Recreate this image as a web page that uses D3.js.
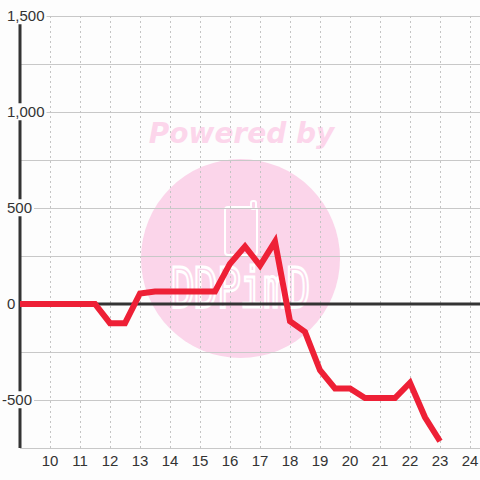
<!DOCTYPE html>
<html>
<head>
<meta charset="utf-8">
<script src="https://cdn.jsdelivr.net/npm/d3@7"></script>
<style>
  html, body { margin: 0; padding: 0; background: #fdfdfd; }
  svg { display: block; }
</style>
</head>
<body>
<svg id="chart" width="480" height="480"></svg>
<script>
// ---- data ----
const xValues = [9, 9.5, 10, 10.5, 11, 11.5, 12, 12.5, 13, 13.5, 14, 14.5, 15, 15.5,
                 16, 16.5, 17, 17.5, 18, 18.5, 19, 19.5, 20, 20.5, 21, 21.5, 22, 22.5, 23];
const seriesValues = [0, 0, 0, 0, 0, 0, -100, -100, 55, 65, 65, 65, 65, 65,
                      210, 300, 200, 325, -90, -145, -345, -440, -440, -490, -490, -490, -410, -590, -715];
const xTicks = [10, 11, 12, 13, 14, 15, 16, 17, 18, 19, 20, 21, 22, 23, 24];
const yTicks = [-500, 0, 500, 1000, 1500];
const yGrid = [-750, -500, -250, 0, 250, 500, 750, 1000, 1250, 1500];

const svg = d3.select("#chart");
const W = 480, H = 480;
const x = d3.scaleLinear().domain([9, 24]).range([20, 470]);
const y = d3.scaleLinear().domain([-750, 1500]).range([448, 16]);

svg.append("rect").attr("width", W).attr("height", H).attr("fill", "#fdfdfd");

// ---- watermark ----
const wm = svg.append("g");
wm.append("text")
  .attr("x", 241.5).attr("y", 143)
  .attr("text-anchor", "middle")
  .attr("font-family", "DejaVu Sans")
  .attr("font-weight", "bold").attr("font-style", "italic")
  .attr("font-size", 28)
  .attr("fill", "#fcd6eb")
  .text("Powered by");
wm.append("circle").attr("cx", 240.5).attr("cy", 258.5).attr("r", 99.5).attr("fill", "#fbd5ea");
// phone-like logo
wm.append("rect").attr("x", 225).attr("y", 207).attr("width", 32).attr("height", 48).attr("rx", 3)
  .attr("fill", "none").attr("stroke", "#ffffff").attr("stroke-width", 2);
wm.append("rect").attr("x", 251).attr("y", 201).attr("width", 5).attr("height", 8).attr("rx", 2)
  .attr("fill", "#fbd5ea").attr("stroke", "#ffffff").attr("stroke-width", 2);
wm.append("text")
  .attr("transform", "translate(240,307) scale(1,1.4)")
  .attr("text-anchor", "middle")
  .attr("font-family", "DejaVu Sans Mono")
  .attr("font-size", 40)
  .attr("fill", "#fbd5ea").attr("stroke", "#ffffff").attr("stroke-width", 2)
  .attr("letter-spacing", -1)
  .text("DDPimD");

// ---- grid ----
const grid = svg.append("g");
grid.selectAll("line.h").data(yGrid).enter().append("line")
  .attr("x1", x(9)).attr("x2", W)
  .attr("y1", d => y(d)).attr("y2", d => y(d))
  .attr("stroke", "#c8c8c8").attr("stroke-width", 1)
  .attr("shape-rendering", "crispEdges");
grid.selectAll("line.v").data(xTicks).enter().append("line")
  .attr("x1", d => x(d)).attr("x2", d => x(d))
  .attr("y1", y(1500)).attr("y2", y(-750))
  .attr("stroke", "#c4c4c4").attr("stroke-width", 1)
  .attr("stroke-dasharray", "2,3")
  .attr("shape-rendering", "crispEdges");

// ---- axes lines ----
svg.append("line")
  .attr("x1", x(9)).attr("x2", x(9))
  .attr("y1", y(1500)).attr("y2", y(-750))
  .attr("stroke", "#333").attr("stroke-width", 3);
svg.append("line")
  .attr("x1", x(9)).attr("x2", W)
  .attr("y1", y(0)).attr("y2", y(0))
  .attr("stroke", "#333").attr("stroke-width", 3);

// ---- y tick labels with white background ----
const fmt = d3.format(",");
const yl = svg.append("g");
yTicks.forEach(v => {
  const g = yl.append("g");
  const bg = g.append("rect").attr("fill", "#fdfdfd");
  const t = g.append("text")
    .attr("x", 7 - (v < 0 ? 5 : 0))
    .attr("y", y(v))
    .attr("dy", "0.35em")
    .attr("font-family", "Liberation Sans, Arial, sans-serif")
    .attr("font-size", 15)
    .attr("fill", "#333")
    .text(fmt(v).replace("−", "-"));
  const b = t.node().getBBox();
  bg.attr("x", b.x - 1).attr("y", b.y).attr("width", b.width + 3).attr("height", b.height);
});

// ---- x tick labels ----
svg.append("g").selectAll("text").data(xTicks).enter().append("text")
  .attr("x", d => x(d)).attr("y", 461).attr("dy", "0.35em")
  .attr("text-anchor", "middle")
  .attr("font-family", "Liberation Sans, Arial, sans-serif")
  .attr("font-size", 15)
  .attr("fill", "#333")
  .text(d => d);

// ---- series line ----
const pts = xValues.map((xv, i) => [xv, seriesValues[i]]);
svg.append("path")
  .datum(pts)
  .attr("d", d3.line().x(d => x(d[0])).y(d => y(d[1])))
  .attr("fill", "none")
  .attr("stroke", "#ee2036")
  .attr("stroke-width", 6)
  .attr("stroke-linejoin", "miter");
</script>
</body>
</html>
